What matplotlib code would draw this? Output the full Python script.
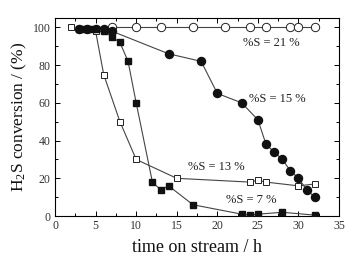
import matplotlib
matplotlib.use("Agg")
import matplotlib.pyplot as plt
from matplotlib.ticker import MultipleLocator

plt.rcParams['font.family'] = ['Liberation Serif', 'DejaVu Serif']
plt.rcParams['mathtext.fontset'] = 'custom'
plt.rcParams['mathtext.rm'] = 'Liberation Serif'
plt.rcParams['mathtext.it'] = 'Liberation Serif:italic'

t21 = [7, 10, 13, 17, 21, 24, 26, 29, 30, 32]
s21 = [100, 100, 100, 100, 100, 100, 100, 100, 100, 100]

t15 = [3, 4, 5, 6, 7, 14, 18, 20, 23, 25, 26, 27, 28, 29, 30, 31, 32]
s15 = [99, 99, 99, 99, 98, 86, 82, 65, 60, 51, 38, 34, 30, 24, 20, 14, 10]

t13 = [2, 5, 6, 8, 10, 15, 24, 25, 26, 30, 32]
s13 = [100, 98, 75, 50, 30, 20, 18, 19, 18, 16, 17]

t7 = [3, 3.5, 4, 4.5, 5, 6, 7, 8, 9, 10, 12, 13, 14, 17, 23, 24, 25, 28, 32]
s7 = [99, 99, 99, 99, 99, 98, 95, 92, 82, 60, 18, 14, 16, 6, 1, 0.5, 1, 2, 0.5]

labels = ["%S = 21 %", "%S = 15 %", "%S = 13 %", "%S = 7 %"]

fig = plt.figure(figsize=(3.46, 2.6), dpi=100)
ax = fig.add_axes([0.159, 0.169, 0.821, 0.762])

lc = '#444444'
ax.plot(t21, s21, '-o', color=lc, lw=0.8, mfc='white', mec='#222222', ms=6.0, mew=0.7, zorder=2)
ax.plot(t15, s15, '-o', color=lc, lw=0.8, mfc='#111111', mec='#111111', ms=5.8, zorder=3)
ax.plot(t13, s13, '-s', color=lc, lw=0.8, mfc='white', mec='#222222', ms=5.0, mew=0.7, zorder=4)
ax.plot(t7, s7, '-s', color=lc, lw=0.8, mfc='#111111', mec='#111111', ms=4.8, zorder=5)

fs_ann = 9
ax.text(23.2, 91.5, labels[0], fontsize=fs_ann, va='center', ha='left', color='#222222')
ax.text(23.9, 62, labels[1], fontsize=fs_ann, va='center', ha='left', color='#222222')
ax.text(16.4, 26, labels[2], fontsize=fs_ann, va='center', ha='left', color='#222222')
ax.text(21.1, 8.5, labels[3], fontsize=fs_ann, va='center', ha='left', color='#222222')

ax.set_xlim(0, 35)
ax.set_ylim(0, 105)
ax.xaxis.set_major_locator(MultipleLocator(5))
ax.xaxis.set_minor_locator(MultipleLocator(2.5))
ax.yaxis.set_major_locator(MultipleLocator(20))
ax.yaxis.set_minor_locator(MultipleLocator(10))
ax.tick_params(which='both', direction='in', top=True, right=True, labelsize=8.5, width=0.7,
               labelcolor='#333333')
ax.tick_params(which='major', length=3.5, pad=3)
ax.tick_params(which='minor', length=2)
for s in ax.spines.values():
    s.set_linewidth(0.8)

ax.set_xlabel('time on stream / h', fontsize=13, labelpad=5, color='#111111')
ax.set_ylabel(r'H$_2$S conversion / (%)', fontsize=12.5, labelpad=3, color='#111111')

fig.savefig('out.png', dpi=100)
